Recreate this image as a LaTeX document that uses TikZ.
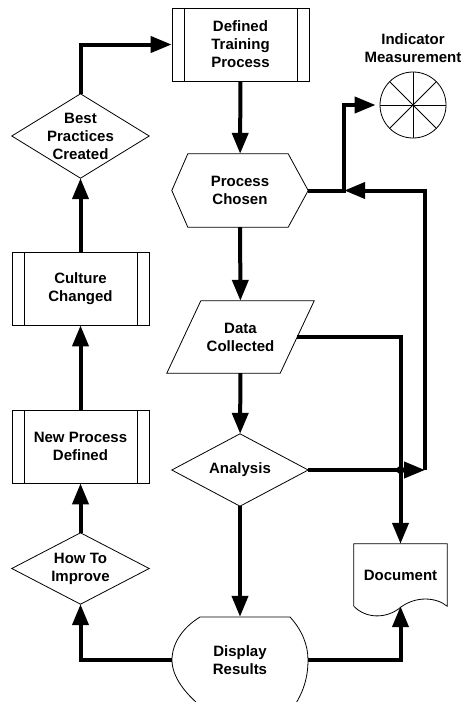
\documentclass[tikz,border=0pt]{standalone}
\usepackage{fontspec}
\setmainfont{Liberation Sans}
\usetikzlibrary{arrows.meta}

\tikzset{
	lbl/.style={font=\fontsize{15}{18}\selectfont\bfseries, align=center, inner sep=0pt},
	blk/.style={lbl, minimum width=137pt, minimum height=73pt},
	sub/.style={blk, draw, line width=0.8pt, path picture={
		\draw[line width=0.8pt] ([xshift=12pt]path picture bounding box.north west) -- ([xshift=12pt]path picture bounding box.south west)
		([xshift=-12pt]path picture bounding box.north east) -- ([xshift=-12pt]path picture bounding box.south east);}},
	outline/.style={line width=0.8pt},
	flow/.style={line width=4pt, -{Triangle[length=21pt,width=16pt]}},
}

\begin{document}
\begin{tikzpicture}[x=1pt,y=-1pt]

	\useasboundingbox (0,0) rectangle (463,702);

	\node[sub] (training) at (240.5,44.5) {Defined\\Training\\Process};
	\node[blk, minimum width=136pt] (chosen) at (240,190.5) {Process\\Chosen};
	\node[blk, minimum width=113pt, minimum height=72pt] (data) at (240.5,337) {Data\\Collected};
	\node[blk, minimum width=136pt, minimum height=72pt] (analysis) at (240,470) {Analysis};
	\node[blk, minimum width=136pt, minimum height=86pt] (display) at (240,660) {Display\\Results};
	\node[blk, minimum width=93pt, minimum height=62pt] (doc) at (400.5,575) {Document};

	\node[blk, minimum height=84pt] (best) at (80.5,136) {Best\\Practices\\Created};
	\node[sub] (culture) at (80.5,288.5) {Culture\\Changed};
	\node[sub] (newproc) at (80.5,446.5) {New Process\\Defined};
	\node[blk, minimum height=71pt] (howto) at (80.5,568.5) {How To\\Improve};

	\node[circle, draw, outline, minimum size=66pt, inner sep=0pt] (indicator) at (413,105) {};
	\node[lbl] (indlabel) at (413,48) {Indicator\\Measurement};

	\foreach \n in {best,howto,analysis}
		\draw[outline] (\n.north) -- (\n.east) -- (\n.south) -- (\n.west) -- cycle;

	\draw[outline] (chosen.west) -- ([xshift=16pt]chosen.north west) -- ([xshift=-20pt]chosen.north east)
		-- (chosen.east) -- ([xshift=-20pt]chosen.south east) -- ([xshift=16pt]chosen.south west) -- cycle;

	\draw[outline] ([xshift=17pt]data.north west) -- ([xshift=17pt]data.north east)
		-- ([xshift=-17pt]data.south east) -- ([xshift=-17pt]data.south west) -- cycle;

	\draw[outline] (200,617) -- (290,617) .. controls (302,630) and (308,645) .. (308,660)
		.. controls (308,680) and (302,696) .. (290,712) -- (208,712)
		.. controls (184,694) and (172,676) .. (172,660) .. controls (172,644) and (182,628) .. (200,617);

	\draw[outline] (doc.south west) -- (doc.north west) -- (doc.north east) -- (doc.south east)
		.. controls (436,597) and (416,596) .. (401,607) .. controls (387,619) and (366,619) .. (doc.south west);

	\foreach \a in {0,45,90,135}
		\draw[outline] (indicator.\a) -- (indicator.\a+180);

	\coordinate (corner) at (425,470);

	\draw[flow] (best.north) |- (training.west);
	\draw[flow] (training) -- (chosen);
	\draw[flow, shorten >=4pt] (chosen.east) -- ++(36,0) |- (indicator.west);
	\draw[flow] (chosen) -- (data);
	\draw[flow] (data.east) -| (doc.north);
	\draw[flow] (data) -- (analysis);
	\draw[flow] (analysis.east) -- (corner);
	\draw[flow] (corner) |- ([xshift=36pt]chosen.east);
	\fill (doc.north |- corner) circle (4pt);
	\draw[flow] (analysis) -- (display);
	\draw[flow] (display.east) -| (doc.south);
	\draw[flow] (display.west) -| (howto.south);
	\draw[flow] (howto) -- (newproc);
	\draw[flow] (newproc) -- (culture);
	\draw[flow] (culture) -- (best);

\end{tikzpicture}
\end{document}
